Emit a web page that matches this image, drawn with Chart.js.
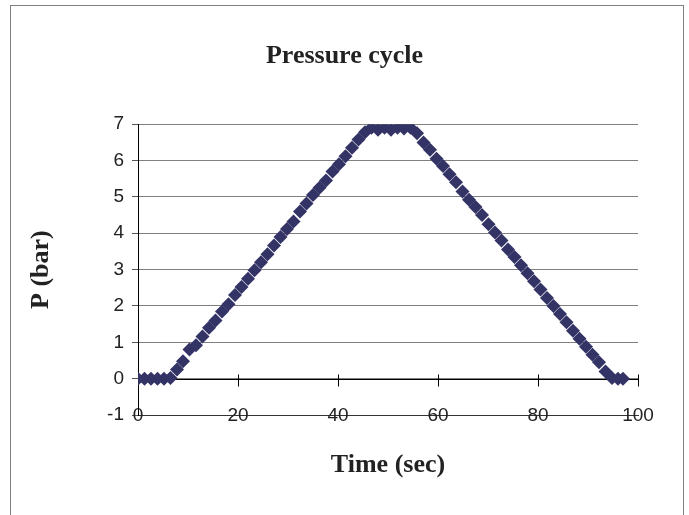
<!DOCTYPE html>
<html>
<head>
<meta charset="utf-8">
<script src="https://cdn.jsdelivr.net/npm/chart.js@4.4.0/dist/chart.umd.min.js"></script>
<style>
html, body { margin: 0; padding: 0; background: #fff; overflow: hidden; }
#frame { position: absolute; left: 10px; top: 5px; width: 672px; height: 600px; border: 1px solid #808080; }
#wrap { position: absolute; left: 0; top: 0; width: 689px; height: 515px; }
</style>
</head>
<body>
<div id="frame"></div>
<div id="wrap"><canvas id="pressureChart"></canvas></div>
<script>
// Данни, отчетени от графиката
const timeSec = [
    0, 1.3, 2.6, 3.9, 5.2, 6.5, 7.8, 9.0, 10.3, 11.6,
    12.9, 14.2, 15.5, 16.8, 18.1, 19.4, 20.7, 22.0, 23.3, 24.6,
    25.9, 27.2, 28.5, 29.8, 31.1, 32.4, 33.7, 35.0, 36.3, 37.6,
    38.9, 40.2, 41.5, 42.8, 44.1, 45.4, 46.7, 48.0, 49.3, 50.6,
    51.9, 53.2, 54.5, 55.8, 57.1, 58.4, 59.7, 61.0, 62.3, 63.6,
    64.9, 66.2, 67.5, 68.8, 70.1, 71.4, 72.7, 74.0, 75.3, 76.6,
    77.9, 79.2, 80.5, 81.8, 83.1, 84.4, 85.7, 87.0, 88.3, 89.6,
    90.9, 92.2, 93.5, 94.8, 96.0, 97.0
];
const pressureBar = [
    0, 0, 0, 0, 0, 0.02, 0.25, 0.48, 0.8, 0.92,
    1.16, 1.4, 1.6, 1.85, 2.05, 2.3, 2.52, 2.75, 2.98, 3.2,
    3.42, 3.66, 3.9, 4.12, 4.32, 4.6, 4.82, 5.05, 5.25, 5.45,
    5.7, 5.9, 6.12, 6.35, 6.58, 6.78, 6.9, 6.85, 6.9, 6.85,
    6.9, 6.88, 6.9, 6.75, 6.5, 6.3, 6.05, 5.85, 5.62, 5.4,
    5.15, 4.92, 4.72, 4.5, 4.25, 4.02, 3.8, 3.55, 3.35, 3.12,
    2.9, 2.68, 2.45, 2.22, 2.0, 1.78, 1.55, 1.32, 1.1, 0.88,
    0.66, 0.45, 0.2, 0.02, 0, 0
];
const xTicks = [0, 20, 40, 60, 80, 100];
const yTicks = [-1, 0, 1, 2, 3, 4, 5, 6, 7];

// Оста на времето минава през P = 0
const zeroAxis = {
    id: 'zeroAxis',
    beforeDatasetsDraw(chart) {
        const x = chart.scales.x, y = chart.scales.y;
        const y0 = Math.round(y.getPixelForValue(0)) + 0.5;
        const ctx = chart.ctx;
        ctx.save();
        ctx.strokeStyle = '#000';
        ctx.lineWidth = 1;
        ctx.beginPath();
        ctx.moveTo(x.left, y0);
        ctx.lineTo(x.right, y0);
        xTicks.forEach(v => {
            const px = Math.round(x.getPixelForValue(v)) + 0.5;
            ctx.moveTo(px, y0 - 5);
            ctx.lineTo(px, y0 + 7);
        });
        ctx.stroke();
        ctx.restore();
    }
};

const tickFont = { family: 'Liberation Sans', size: 19 };
const titleFont = { family: 'Liberation Serif', size: 26, weight: 'bold', lineHeight: 1.2 };

const ctx = document.getElementById('pressureChart').getContext('2d');
new Chart(ctx, {
    type: 'scatter',
    data: {
        datasets: [{
            label: 'P',
            data: timeSec.map((t, i) => ({ x: t, y: pressureBar[i] })),
            pointStyle: 'rectRot',
            pointRadius: 7,
            pointBackgroundColor: '#333366',
            pointBorderColor: '#333366',
            pointBorderWidth: 0,
            showLine: false
        }]
    },
    options: {
        responsive: true,
        maintainAspectRatio: false,
        animation: false,
        layout: { padding: 0 },
        plugins: {
            legend: { display: false },
            tooltip: { enabled: false },
            title: {
                display: true,
                text: 'Pressure cycle',
                color: '#222',
                font: titleFont,
                padding: { top: 41, bottom: 52 }
            }
        },
        scales: {
            x: {
                type: 'linear',
                min: 0,
                max: 100,
                afterBuildTicks: s => { s.ticks = xTicks.map(v => ({ value: v })); },
                afterFit: s => { s.height = 100; },
                grid: { display: false },
                border: { display: true, color: '#333' },
                ticks: { display: false },
                title: {
                    display: true,
                    text: 'Time (sec)',
                    color: '#222',
                    font: titleFont,
                    padding: { top: 0, bottom: 34 }
                }
            },
            // надписите на времето, центрирани върху линията при -1
            xLabels: {
                type: 'linear',
                axis: 'x',
                position: { y: -1 },
                min: 0,
                max: 100,
                afterBuildTicks: s => { s.ticks = xTicks.map(v => ({ value: v })); },
                grid: { display: false, drawOnChartArea: false },
                border: { display: false },
                ticks: {
                    color: '#222',
                    font: tickFont,
                    padding: -19,
                    maxRotation: 0
                }
            },
            y: {
                type: 'linear',
                min: -1,
                max: 7,
                afterBuildTicks: s => { s.ticks = yTicks.map(v => ({ value: v })); },
                afterFit: s => { s.width = 138; },
                grid: { color: '#808080', lineWidth: 1, drawTicks: true, tickLength: 6, tickColor: '#555' },
                border: { display: true, color: '#000' },
                ticks: {
                    color: '#222',
                    font: tickFont,
                    padding: 8
                },
                title: {
                    display: true,
                    text: 'P (bar)',
                    color: '#222',
                    font: titleFont,
                    padding: { top: 26, bottom: 0 }
                }
            },
            // празна дясна ос, само за отстъпа отдясно
            yRight: {
                type: 'linear',
                position: 'right',
                min: -1,
                max: 7,
                afterFit: s => { s.width = 51; },
                grid: { display: false, drawOnChartArea: false },
                border: { display: false },
                ticks: { display: false }
            }
        }
    },
    plugins: [zeroAxis]
});
</script>
</body>
</html>
